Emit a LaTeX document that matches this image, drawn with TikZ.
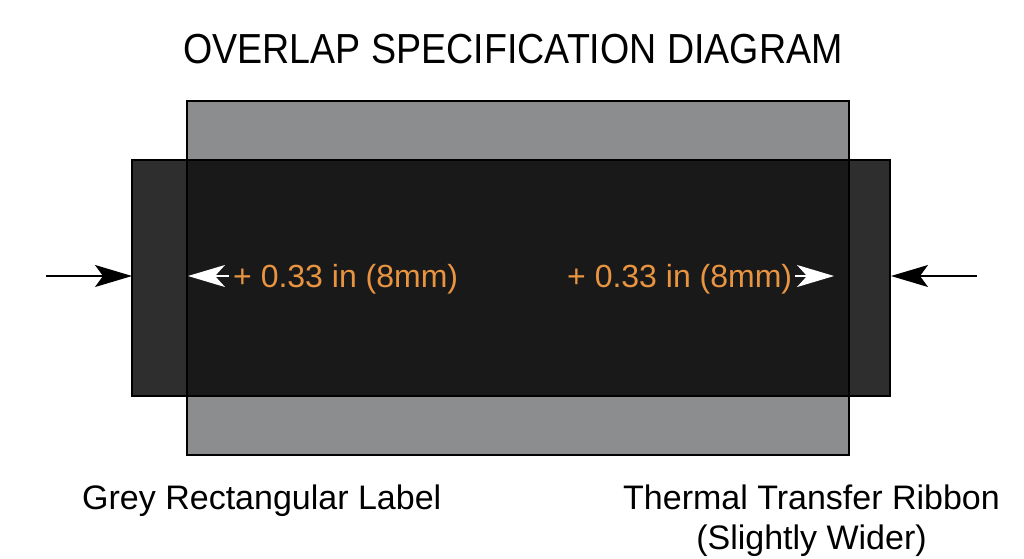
\documentclass[tikz,border=0pt]{standalone}
\usepackage{fontspec}
\setmainfont{Liberation Sans}
\usetikzlibrary{arrows.meta}
\definecolor{labelgrey}{RGB}{139,141,143}
\definecolor{dimorange}{RGB}{232,148,64}
\begin{document}
\begin{tikzpicture}[x=1pt,y=-1pt,
  sheet/.style={draw=black,line width=1.6pt,inner sep=0pt,outer sep=0pt},
  blackarrow/.style={draw=black,line width=1.3pt,-{Stealth[length=37pt,width=22pt,inset=8pt]}},
  whitearrow/.style={draw=white,line width=1.3pt,-{Stealth[length=37pt,width=22pt,inset=10pt]}},
  dimtext/.style={text=dimorange,font=\fontsize{32}{38}\selectfont,anchor=base west,inner sep=0pt},
  caption/.style={text=black,font=\fontsize{34}{40}\selectfont,inner sep=0pt}]
\useasboundingbox (0,0) rectangle (1024,558);
\fill[white] (0,0) rectangle (1024,558);
% title
\node[font=\fontsize{42}{48}\selectfont,inner sep=0pt,anchor=base,xscale=0.895] (title) at (513,63) {OVERLAP SPECIFICATION DIAGRAM};
% grey label
\node[sheet,fill=labelgrey,minimum width=662pt,minimum height=354pt] (label) at (518,278) {};
% ribbon (semi transparent dark)
\node[sheet,fill=black,fill opacity=0.82,minimum width=758pt,minimum height=236pt] (ribbon) at (511,278) {};
% dimension texts
\node[dimtext] (dimleft) at (233,287) {+ 0.33 in (8mm)};
\node[dimtext] (dimright) at (567,287) {+ 0.33 in (8mm)};
% arrows
\coordinate (bl0) at (46,276);
\coordinate (bl1) at (132,276);
\coordinate (br0) at (977,276);
\coordinate (br1) at (891,276);
\coordinate (wl0) at (229,276);
\coordinate (wl1) at (188,276);
\coordinate (wr0) at (795,276);
\coordinate (wr1) at (834,276);
\draw[blackarrow] (bl0) -- (bl1);
\draw[blackarrow] (br0) -- (br1);
\draw[whitearrow] (wl0) -- (wl1);
\draw[whitearrow] (wr0) -- (wr1);
% captions
\node[caption,anchor=base west] (cap1) at (82,509) {Grey Rectangular Label};
\node[caption,anchor=base] (cap2) at (811.5,509) {Thermal Transfer Ribbon};
\node[caption,anchor=base] (cap3) at (811.5,549) {(Slightly Wider)};
\end{tikzpicture}
\end{document}
